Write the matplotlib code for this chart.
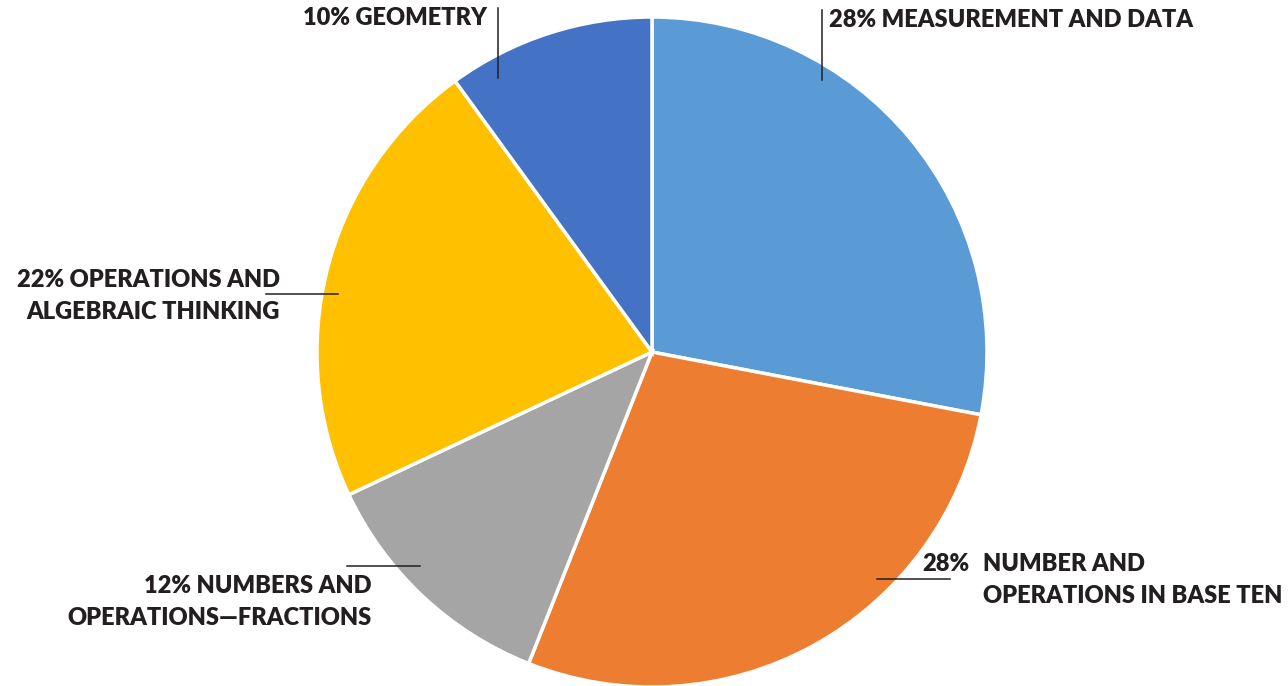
import matplotlib
matplotlib.use("Agg")
import matplotlib.pyplot as plt

categories = ["MEASUREMENT AND DATA", "NUMBER AND OPERATIONS IN BASE TEN",
              "NUMBERS AND OPERATIONS\u2014FRACTIONS", "OPERATIONS AND ALGEBRAIC THINKING",
              "GEOMETRY"]
shares = [28, 28, 12, 22, 10]
colors = ["#5B9BD5", "#ED7D31", "#A5A5A5", "#FFC000", "#4472C4"]

TXT = "#231F20"


def main():
    plt.rcParams['font.family'] = ['Lato', 'DejaVu Sans']
    fig = plt.figure(figsize=(12.88, 6.86), dpi=100)
    ax = fig.add_axes([0.2461, -0.0015, 0.5202, 0.9767])
    ax.pie(shares, colors=colors, startangle=90, counterclock=False,
           wedgeprops=dict(edgecolor="white", linewidth=2.5))
    ax.set_xlim(-1, 1)
    ax.set_ylim(-1, 1)
    ax.set_aspect("equal")
    ax.axis("off")

    kw = dict(fontsize=17, fontweight="heavy", color=TXT, va="center", clip_on=False)

    # leader lines
    lines = [([-0.46, -0.46], [1.027, 0.818]),
             ([0.507, 0.507], [1.021, 0.812]),
             ([-1.152, -0.937], [0.173, 0.173]),
             ([-0.910, -0.693], [-0.639, -0.639]),
             ([0.672, 0.890], [-0.678, -0.678])]
    for xs, ys in lines:
        ax.plot(xs, ys, color=TXT, lw=1.1, clip_on=False)

    ax.text(-0.493, 0.997, f"{shares[4]}% {categories[4]}", ha="right", **kw)
    ax.text(0.528, 0.991, f"{shares[0]}% {categories[0]}", ha="left", **kw)
    ax.text(-1.110, 0.215, f"{shares[3]}% OPERATIONS AND", ha="right", **kw)
    ax.text(-1.110, 0.119, "ALGEBRAIC THINKING", ha="right", **kw)
    ax.text(-0.836, -0.699, f"{shares[2]}% NUMBERS AND", ha="right", **kw)
    ax.text(-0.836, -0.794, "OPERATIONS\u2014FRACTIONS", ha="right", **kw)
    ax.text(0.806, -0.633, f"{shares[1]}%", ha="left", **kw)
    ax.text(0.988, -0.633, "NUMBER AND", ha="left", **kw)
    ax.text(0.988, -0.728, "OPERATIONS IN BASE TEN", ha="left", **kw)

    fig.savefig("out.png", dpi=100)


if __name__ == '__main__':
    main()
